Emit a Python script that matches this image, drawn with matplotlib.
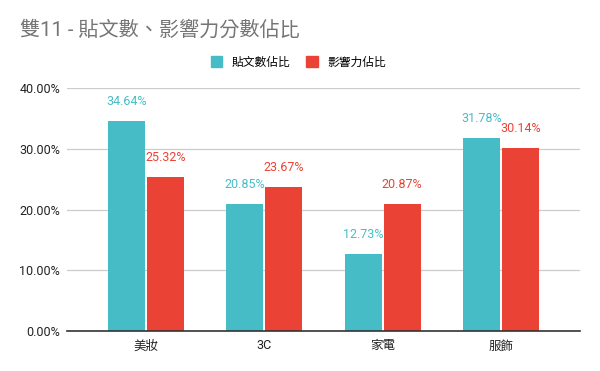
import matplotlib
matplotlib.use("Agg")
import matplotlib.pyplot as plt
import matplotlib.patches as mpatches
import numpy as np

plt.rcParams['font.family'] = ['Roboto', 'Noto Sans CJK TC', 'DejaVu Sans']

categories = ['美妝', '3C', '家電', '服飾']
posts_share = [34.64, 20.85, 12.73, 31.78]
influence_share = [25.32, 23.67, 20.87, 30.14]
series_names = ['貼文數佔比', '影響力佔比']
title = '雙11 - 貼文數、影響力分數佔比'

teal = '#46bdc6'
red = '#ea4335'

fig = plt.figure(figsize=(6, 3.71), dpi=100)
ax = fig.add_axes([0.1117, 0.1078, 0.855, 0.655])

x = np.arange(len(categories))
w = 0.31
gap = 0.009
b1 = ax.bar(x - w / 2 - gap, posts_share, w, color=teal, zorder=3)
b2 = ax.bar(x + w / 2 + gap, influence_share, w, color=red, zorder=3)

for bars, vals, col in [(b1, posts_share, teal), (b2, influence_share, red)]:
    for b, v in zip(bars, vals):
        ax.annotate('%.2f%%' % v, (b.get_x() + b.get_width() / 2, v),
                    xytext=(0, 14), textcoords='offset points',
                    ha='center', va='center', fontsize=9, color=col,
                    annotation_clip=False, zorder=4)

ax.set_xlim(-0.665, 3.665)
ax.set_ylim(0, 40)
ax.set_yticks([0, 10, 20, 30, 40])
ax.set_yticklabels(['%.2f%%' % t for t in [0, 10, 20, 30, 40]])
ax.set_xticks(x)
ax.set_xticklabels(categories)
ax.tick_params(axis='both', length=0, labelsize=9, labelcolor='#222222')
ax.tick_params(axis='y', pad=5)
ax.tick_params(axis='x', pad=6)
ax.grid(axis='y', color='#cccccc', linewidth=0.9, zorder=0)
for s in ['top', 'right', 'left']:
    ax.spines[s].set_visible(False)
ax.spines['bottom'].set_color('#333333')
ax.spines['bottom'].set_linewidth(1.2)
ax.spines['bottom'].set_zorder(5)

fig.text(20 / 600, 1 - 30 / 371, title, fontsize=14.5, color='#757575',
         ha='left', va='center')

handles = [mpatches.Patch(color=teal, label=series_names[0]),
           mpatches.Patch(color=red, label=series_names[1])]
fig.legend(handles=handles, loc='center', bbox_to_anchor=(0.497, 1 - 62 / 371),
           ncol=2, frameon=False, fontsize=8.5, handlelength=1.0,
           handleheight=1.0, handletextpad=0.8, columnspacing=1.3)

fig.savefig('out.png', dpi=100)
